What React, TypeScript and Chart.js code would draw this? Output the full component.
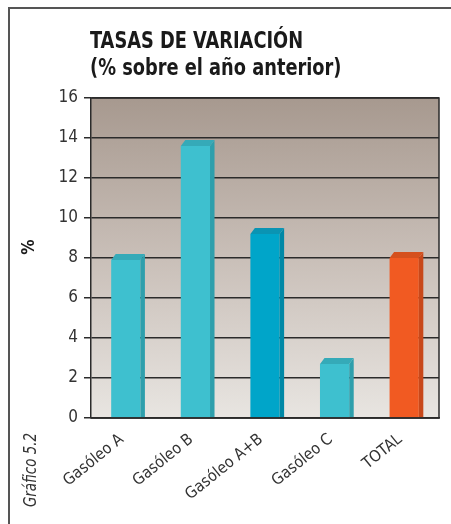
import { useEffect, useRef } from "react";
import { Chart, registerables } from "chart.js";

Chart.register(...registerables);

const categories = ["Gasóleo A", "Gasóleo B", "Gasóleo A+B", "Gasóleo C", "TOTAL"];
const values = [7.9, 13.6, 9.2, 2.7, 8.0];
const frontColors = ["#3ec0cf", "#3ec0cf", "#00a5c9", "#3ec0cf", "#f15a22"];
const sideColors = ["#2e9fac", "#2e9fac", "#0088a6", "#2e9fac", "#c8481a"];
const capColors = ["#35aab8", "#35aab8", "#0a94b3", "#35aab8", "#d5501d"];
const yMin = 0;
const yMax = 16;
const yStep = 2;
const titleLines = ["TASAS DE VARIACIÓN", "(% sobre el año anterior)"];
const yAxisLabel = "%";
const sideNote = "Gráfico 5.2";

const FONT = "'Liberation Sans Narrow', 'DejaVu Sans Condensed', 'Roboto', sans-serif";

const bar3d = {
  id: "bar3d",
  beforeDraw(chart: any) {
    const { ctx, chartArea: a } = chart;
    const g = ctx.createLinearGradient(0, a.top, 0, a.bottom);
    g.addColorStop(0, "#a7998f");
    g.addColorStop(0.5, "#c9bfb8");
    g.addColorStop(1, "#e8e5e1");
    ctx.save();
    ctx.fillStyle = g;
    ctx.fillRect(a.left, a.top, a.right - a.left, a.bottom - a.top);
    ctx.restore();
  },
  afterDatasetsDraw(chart: any) {
    const { ctx, chartArea: a } = chart;
    const meta = chart.getDatasetMeta(0);
    const dx = 4.5;
    const dy = 6;
    ctx.save();
    meta.data.forEach((el: any, i: number) => {
      const { x, y, base, width } = el.getProps(["x", "y", "base", "width"], true);
      const l = x - width / 2;
      const r = x + width / 2;
      ctx.fillStyle = sideColors[i];
      ctx.beginPath();
      ctx.moveTo(r, y);
      ctx.lineTo(r + dx, y - dy);
      ctx.lineTo(r + dx, base);
      ctx.lineTo(r, base);
      ctx.closePath();
      ctx.fill();
      ctx.fillStyle = capColors[i];
      ctx.beginPath();
      ctx.moveTo(l, y);
      ctx.lineTo(l + dx, y - dy);
      ctx.lineTo(r + dx, y - dy);
      ctx.lineTo(r, y);
      ctx.closePath();
      ctx.fill();
    });
    ctx.strokeStyle = "#2b2b2b";
    ctx.lineWidth = 1.5;
    ctx.beginPath();
    ctx.moveTo(a.left, a.top);
    ctx.lineTo(a.right, a.top);
    ctx.lineTo(a.right, a.bottom);
    ctx.lineTo(a.left, a.bottom);
    ctx.stroke();
    ctx.restore();
  },
  afterDraw(chart: any) {
    const { ctx, chartArea: a } = chart;
    const sx = 0.86;
    ctx.save();
    ctx.fillStyle = "#1a1a1a";
    ctx.textAlign = "left";
    ctx.textBaseline = "alphabetic";
    ctx.font = `bold 23px ${FONT}`;
    ctx.save();
    ctx.scale(sx, 1);
    ctx.fillText(titleLines[0], (a.left - 1) / sx, 39);
    ctx.fillText(titleLines[1], (a.left - 1) / sx, 66);
    ctx.restore();

    ctx.save();
    ctx.translate(20, 238);
    ctx.rotate(-Math.PI / 2);
    ctx.textAlign = "center";
    ctx.textBaseline = "middle";
    ctx.font = `bold 17px ${FONT}`;
    ctx.fillText(yAxisLabel, 0, 0);
    ctx.restore();

    ctx.save();
    ctx.translate(22, 461);
    ctx.rotate(-Math.PI / 2);
    ctx.scale(0.88, 1);
    ctx.textAlign = "center";
    ctx.textBaseline = "middle";
    ctx.fillStyle = "#333";
    ctx.font = `italic 17px ${FONT}`;
    ctx.fillText(sideNote, 0, 0);
    ctx.restore();
    ctx.restore();
  },
};

export default function App() {
  const ref = useRef<HTMLCanvasElement | null>(null);
  useEffect(() => {
    if (!ref.current) return;
    const chart = new Chart(ref.current, {
      type: "bar",
      data: {
        labels: categories,
        datasets: [
          {
            data: values,
            backgroundColor: frontColors,
            borderWidth: 0,
            barPercentage: 0.42,
            categoryPercentage: 1,
          },
        ],
      },
      options: {
        responsive: false,
        animation: false,
        events: [],
        layout: { padding: { top: 89, right: 12, left: 0, bottom: 0 } },
        plugins: { legend: { display: false }, tooltip: { enabled: false }, title: { display: false } },
        scales: {
          y: {
            min: yMin,
            max: yMax,
            ticks: {
              stepSize: yStep,
              color: "#333",
              font: { family: FONT, size: 17 },
              padding: 6,
            },
            grid: { color: "#2b2b2b", lineWidth: 1.5, tickLength: 7 },
            border: { display: true, color: "#2b2b2b", width: 1.5 },
            afterFit: (s: any) => {
              s.width = 81;
            },
          },
          x: {
            grid: { display: false, tickLength: 6 },
            border: { display: true, color: "#2b2b2b", width: 1.5 },
            ticks: {
              minRotation: 39,
              maxRotation: 39,
              color: "#333",
              font: { family: FONT, size: 16 },
              padding: 6,
              labelOffset: -4,
            },
            afterFit: (s: any) => {
              s.height = 106;
            },
          },
        },
      },
      plugins: [bar3d],
    });
    return () => chart.destroy();
  }, []);
  return (
    <div
      style={{
        position: "absolute",
        left: 8,
        top: 7,
        width: 443,
        height: 517,
        borderTop: "2px solid #555",
        borderLeft: "2px solid #555",
        overflow: "hidden",
      }}
    >
      <canvas ref={ref} width={441} height={515} style={{ display: "block" }} />
    </div>
  );
}
